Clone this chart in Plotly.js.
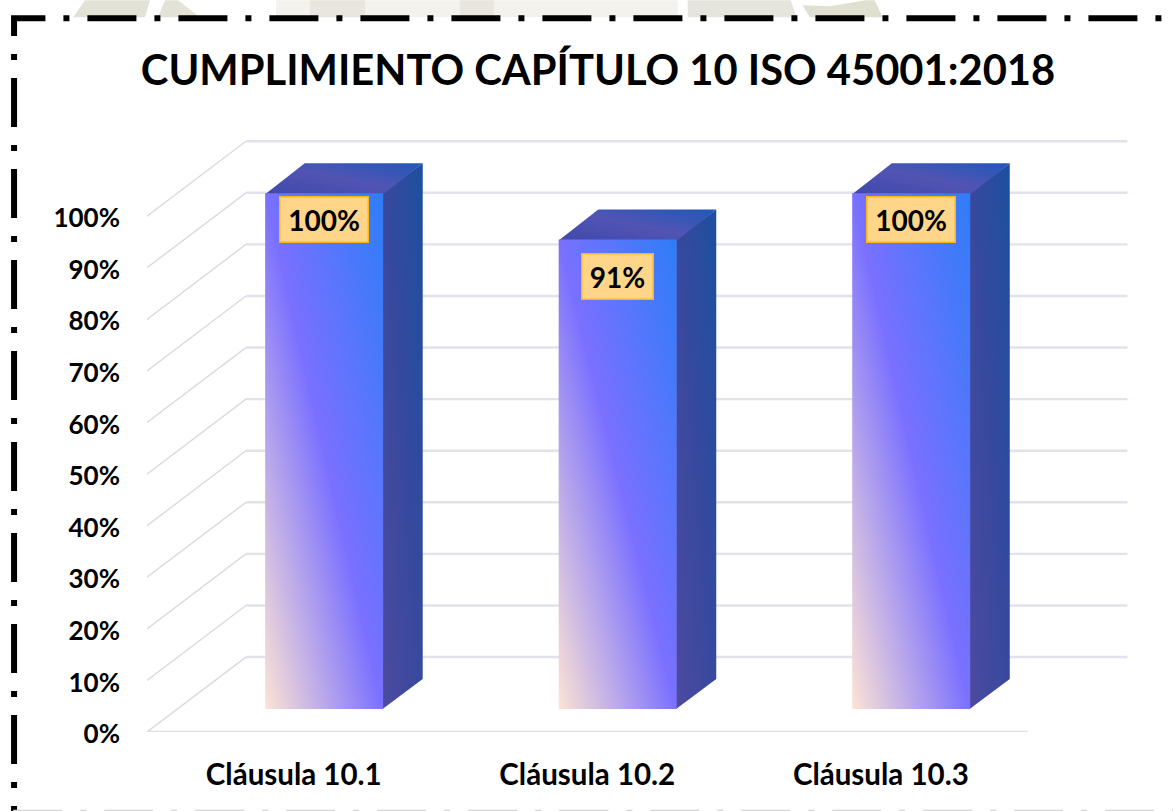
<!DOCTYPE html>
<html>
<head>
<meta charset="utf-8">
<script src="https://cdn.plot.ly/plotly-3.0.1.min.js"></script>
<style>html,body{margin:0;padding:0;background:#fff;overflow:hidden}</style>
</head>
<body>
<div id="chart" style="width:1173px;height:811px"></div>
<script>
const chartTitle = 'CUMPLIMIENTO CAPÍTULO 10 ISO 45001:2018';
const categories = ['Cláusula 10.1', 'Cláusula 10.2', 'Cláusula 10.3'];
const values = [100, 91, 100];
const valueLabels = ['100%', '91%', '100%'];
const yTicks = [0, 10, 20, 30, 40, 50, 60, 70, 80, 90, 100];
const yTickLabels = ['0%', '10%', '20%', '30%', '40%', '50%', '60%', '70%', '80%', '90%', '100%'];

// Page geometry
const W = 1173, H = 811;
const plotL = 147, plotB = 732.3, catPx = 293.67, pctPx = 5.163;
const xMin = -0.5, xMax = 2.9, yMax = 120;
const plotW = (xMax - xMin) * catPx, plotH = yMax * pctPx;
// Oblique projection of the fake 3D box (depth 0 = front of floor, 1 = back wall)
const DX = 99 / catPx, DY = 75 / pctPx;
const barHalf = 0.201, barFront = 0.307, barBack = 0.707;
const wallRight = 2.84;
const labelDrop = [5.2, 7.2, 5.2];
const font = 'Lato, "Open Sans", sans-serif';

const px = v => (v - plotL) / plotW;
const py = v => (plotB - v) / plotH;
const poly = pts => 'M' + pts.map(p => px(p[0]) + ',' + py(p[1])).join('L') + 'Z';
const open = pts => 'M' + pts.map(p => px(p[0]) + ',' + py(p[1])).join('L');

const traces = [];
// back wall and left wall
const backX = [], backY = [], sideX = [], sideY = [];
yTicks.forEach(t => {
  backX.push(xMin + DX, wallRight, null); backY.push(t + DY, t + DY, null);
  sideX.push(xMin, xMin + DX, null); sideY.push(t, t + DY, null);
});
traces.push({type:'scatter', mode:'lines', x:sideX, y:sideY, cliponaxis:false, line:{color:'#dcdcdf', width:1.5}, hoverinfo:'skip', showlegend:false});
traces.push({type:'scatter', mode:'lines', x:backX, y:backY, line:{color:'#e2e2ea', width:2.4}, hoverinfo:'skip', showlegend:false});
traces.push({type:'scatter', mode:'lines', x:[xMin, 2.5], y:[0, 0], cliponaxis:false, line:{color:'#dedee3', width:2.6}, hoverinfo:'skip', showlegend:false});

const faceTrace = (xs, ys, type, colors) => ({
  type:'scatter', mode:'lines', x:xs, y:ys, fill:'toself', line:{width:0, color:'rgba(0,0,0,0)'},
  fillgradient:{type:type, colorscale:colors.map((c,i)=>[i/(colors.length-1), c])},
  hoverinfo:'skip', showlegend:false
});
const diagonal = [];
values.forEach((v, i) => {
  const x = (s, d) => i + s * barHalf + d * DX;
  const y = (val, d) => val + d * DY;
  const lap = 0.99, dip = v - 0.2;
  diagonal.push(traces.length);
  traces.push(faceTrace(
    [x(lap,barFront), x(1,barBack), x(1,barBack), x(lap,barFront), x(lap,barFront)],
    [y(0,barFront), y(0,barBack), y(v,barBack), y(v,barFront), y(0,barFront)],
    'vertical', ['#4d4a9f', '#37499e', '#1d4f9f']));
  diagonal.push(traces.length);
  traces.push(faceTrace(
    [x(-1,barFront), x(1,barFront), x(1,barBack), x(-1,barBack), x(-1,barFront)],
    [y(dip,barFront), y(dip,barFront), y(v,barBack), y(v,barBack), y(dip,barFront)],
    'vertical', ['#3f48aa', '#5254b3', '#1f58b8']));
  diagonal.push(traces.length);
  traces.push(faceTrace(
    [x(-1,barFront), x(1,barFront), x(1,barFront), x(-1,barFront), x(-1,barFront)],
    [y(0,barFront), y(0,barFront), y(v,barFront), y(v,barFront), y(0,barFront)],
    'vertical', ['#fde4d4', '#7a70ff', '#2e7df8']));
});

const annotations = values.map((v, i) => ({
  x: i + barFront * DX, xref:'x',
  y: v - labelDrop[i] + barFront * DY, yref:'y',
  text: valueLabels[i], showarrow:false,
  font:{family:font, size:28, color:'#000', weight:700},
  bgcolor:'#ffd689', bordercolor:'#fbb715', borderwidth:1.5,
  width: valueLabels[i].length > 3 ? 85 : 68, height:42, align:'center', valign:'middle'
}));

const patch = (pts, color) => ({type:'path', xref:'paper', yref:'paper', layer:'below', path:poly(pts), fillcolor:color, line:{width:0}});
const shapes = [
  patch([[276,0],[678,0],[678,17],[276,17]], '#f3f2ed'),
  patch([[85,0],[150,0],[145,17],[73,17]], '#e2e3d6'),
  patch([[165,0],[178,0],[200,17],[158,17]], '#e2e3d6'),
  patch([[310,0],[365,0],[365,17],[310,17]], '#e8e6df'),
  patch([[460,0],[494,0],[494,17],[460,17]], '#e8e6de'),
  patch([[688,0],[791,0],[797,17],[688,17]], '#e6e5dd'),
  patch([[803,5],[830,6],[866,0],[875,0],[883,17],[810,17]], '#dfe0d0'),
  {type:'path', xref:'paper', yref:'paper', path:open([[14,855.4],[14,18],[1190,18]]),
   line:{color:'#000', width:6, dash:'49px,18px,6px,18px'}},
  {type:'path', xref:'paper', yref:'paper', path:open([[13.1,811],[1190,811]]),
   line:{color:'#d4d4d4', width:2, dash:'49px,18px,6px,18px'}}
];

const layout = {
  width:W, height:H, paper_bgcolor:'#fff', plot_bgcolor:'rgba(0,0,0,0)', showlegend:false,
  margin:{l:plotL, r:W - plotL - plotW, t:plotB - plotH, b:H - plotB, pad:0, autoexpand:false},
  title:{text:chartTitle, x:598/W, xanchor:'center', xref:'container', y:1 - 70/H, yanchor:'middle', yref:'container',
         font:{family:font, size:41.7, color:'#000', weight:700}},
  xaxis:{range:[xMin, xMax], tickmode:'array', tickvals:[0,1,2], ticktext:categories, showgrid:false, zeroline:false, showline:false,
         ticks:'', ticklabelstandoff:22, tickfont:{family:font, size:29.5, color:'#000', weight:700}, fixedrange:true},
  yaxis:{range:[0, yMax], tickmode:'array', tickvals:yTicks, ticktext:yTickLabels, showgrid:false, zeroline:false, showline:false,
         ticks:'', ticklabelstandoff:26, ticklabelshift:2, tickfont:{family:font, size:26, color:'#000', weight:700}, fixedrange:true},
  annotations, shapes
};

const gd = document.getElementById('chart');
Plotly.newPlot(gd, traces, layout, {displayModeBar:false, staticPlot:true}).then(() => {
  // Turn the face gradients into the reference's diagonal sweep.
  const layers = gd.querySelectorAll('.scatterlayer .trace');
  diagonal.forEach(idx => {
    const p = layers[idx] && layers[idx].querySelector('.js-fill');
    if (!p) return;
    const m = /url\(["']?[^#]*#([^"')]+)/.exec(p.style.fill || p.getAttribute('fill') || '');
    const g = m && document.getElementById(m[1]);
    if (g) { g.setAttribute('x1','0'); g.setAttribute('y1','1'); g.setAttribute('x2','1'); g.setAttribute('y2','0'); }
  });
});
</script>
</body>
</html>
